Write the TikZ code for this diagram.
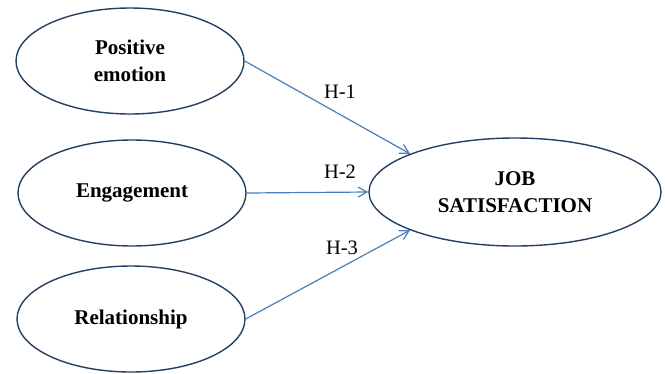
\documentclass[tikz,border=0pt]{standalone}
\usepackage{fontspec}
\setmainfont{Liberation Serif}
\usetikzlibrary{shapes.geometric, arrows.meta}
\definecolor{rim}{HTML}{243F60}
\definecolor{link}{HTML}{4A7EBB}

\begin{document}
\begin{tikzpicture}[
    x=1pt, y=-1pt,
    >={Straight Barb[length=9pt, width=10pt]},
    font=\fontsize{20.5}{22}\selectfont,
    construct/.style={
        ellipse,
        draw=rim,
        line width=1.4pt,
        align=center,
        inner sep=0pt,
        minimum width=228pt,
        minimum height=106pt,
        font=\fontsize{21}{27}\selectfont\bfseries
    },
    outcome/.style={construct, minimum width=292pt, minimum height=108pt},
    hyp/.style={draw=link, line width=1.2pt, ->},
    hlabel/.style={inner sep=0pt}
]
\useasboundingbox (0,0) rectangle (665,373);

\node[construct] (PE) at (130,61) {Positive\\emotion};
\node[construct] (EN) at (132,193) {Engagement};
\node[construct] (RE) at (131,319) {Relationship};
\node[outcome] (JS) at (515,192) {JOB\\SATISFACTION};

\draw[hyp] (PE.east) -- (JS.160);
\draw[hyp] (EN.east) -- (JS.west);
\draw[hyp] (RE.east) -- (JS.200);

\node[hlabel] (H1) at (340,92) {H-1};
\node[hlabel] (H2) at (340,172) {H-2};
\node[hlabel] (H3) at (342,248) {H-3};

\end{tikzpicture}
\end{document}
